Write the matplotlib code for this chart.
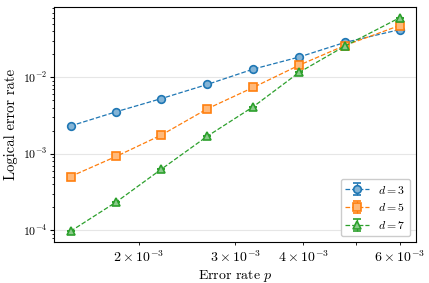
import numpy as np
import matplotlib
matplotlib.use('Agg')
import matplotlib.pyplot as plt
from matplotlib.colors import to_rgb

plt.rcParams['font.family'] = 'serif'
plt.rcParams['font.serif'] = ['cmr10']
plt.rcParams['mathtext.fontset'] = 'cm'
plt.rcParams['axes.formatter.use_mathtext'] = True
plt.rcParams['axes.unicode_minus'] = False

# Physical error rates
p = [1.5e-3, 1.82e-3, 2.2e-3, 2.67e-3, 3.24e-3, 3.93e-3, 4.76e-3, 6.0e-3]

# Logical error rates per code distance
d3 = [2.31e-3, 3.55e-3, 5.27e-3, 8.07e-3, 1.28e-2, 1.84e-2, 2.85e-2, 4.2e-2]
d5 = [5.04e-4, 9.27e-4, 1.76e-3, 3.88e-3, 7.38e-3, 1.44e-2, 2.6e-2, 4.75e-2]
d7 = [9.7e-5, 2.35e-4, 6.3e-4, 1.7e-3, 4.13e-3, 1.16e-2, 2.55e-2, 6.0e-2]

labels = ['$d = 3$', '$d = 5$', '$d = 7$']
series = [d3, d5, d7]
markers = ['o', 's', '^']
colors = ['#1f77b4', '#ff7f0e', '#2ca02c']


def lighten(c, amount=0.45):
    r, g, b = to_rgb(c)
    return (r + (1 - r) * amount, g + (1 - g) * amount, b + (1 - b) * amount)


fig, ax = plt.subplots(figsize=(4.29, 2.83), dpi=100)
fig.subplots_adjust(left=0.126, right=0.97, bottom=0.145, top=0.975)

for ys, lab, m, c in zip(series, labels, markers, colors):
    ax.errorbar(p, ys, yerr=np.zeros(len(ys)), fmt=m, linestyle='--', color=c,
                linewidth=0.9, markersize=5.5, markeredgewidth=1.2,
                markerfacecolor=lighten(c), markeredgecolor=c,
                capsize=3, elinewidth=0.9, label=lab)

ax.set_xscale('log')
ax.set_yscale('log')
ax.grid(True, which='major', axis='y', color='0.9', linewidth=0.8)
ax.set_axisbelow(True)
ax.tick_params(which='major', length=3, pad=2, labelsize=8.5)
ax.tick_params(which='minor', length=1.8)
ax.set_xlabel('Error rate $p$', fontsize=10, labelpad=2)
ax.set_ylabel('Logical error rate', fontsize=10.5, labelpad=3)
ax.legend(loc='lower right', fontsize=8.5, framealpha=1, edgecolor='0.8')

fig.savefig('out.png', dpi=100)
